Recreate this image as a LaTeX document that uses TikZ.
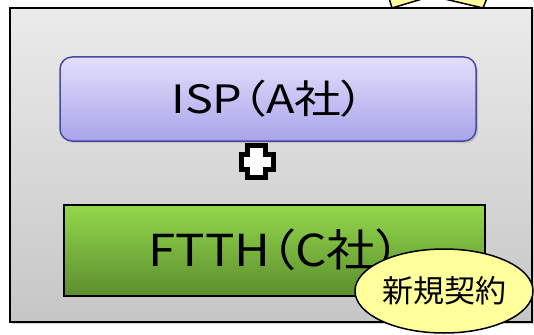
\documentclass[tikz,border=0pt]{standalone}
\usepackage{graphicx}
\usepackage{fontspec}
\setmainfont{Noto Sans CJK JP}
\newfontfamily\boxfont[RawFeature=+palt]{Noto Sans CJK JP}
\usetikzlibrary{shapes.geometric,shadows}
\definecolor{outerTop}{HTML}{EBEBEB}
\definecolor{outerBot}{HTML}{C6C6C6}
\definecolor{ispTop}{HTML}{E3DFFC}
\definecolor{ispBot}{HTML}{A8A4EA}
\definecolor{ispLine}{HTML}{4B47A3}
\definecolor{ftthTop}{HTML}{93D84C}
\definecolor{ftthBot}{HTML}{5C8E2E}
\definecolor{noteFill}{HTML}{FFFF9C}
\tikzset{
  outerbox/.style={draw=black, line width=1.5pt, top color=outerTop, bottom color=outerBot,
    minimum width=522pt, minimum height=314pt, inner sep=0pt,
    drop shadow={shadow xshift=2pt, shadow yshift=-2pt, opacity=0.35}},
  ispbox/.style={draw=ispLine, line width=1.5pt, rounded corners=12pt, top color=ispTop, bottom color=ispBot,
    minimum width=416pt, minimum height=84pt, inner sep=0pt, font=\boxfont\fontsize{39}{41}\selectfont,
    drop shadow={shadow xshift=2pt, shadow yshift=-2pt, opacity=0.3}},
  ftthbox/.style={draw=black, line width=2pt, top color=ftthTop, bottom color=ftthBot,
    minimum width=421pt, minimum height=91pt, inner sep=0pt, font=\boxfont\fontsize{44}{46}\selectfont},
  notebubble/.style={ellipse, draw=black, line width=1.5pt, fill=noteFill,
    minimum width=178pt, minimum height=84pt, inner sep=0pt, font=\fontsize{31}{33}\selectfont},
}
\begin{document}
\begin{tikzpicture}[x=1pt,y=-1pt]
\useasboundingbox (0,0) rectangle (534,334);
% burst behind the box top
\draw[line width=1.5pt, fill=noteFill] (389,-2) -- (392,8) -- (432,-4) -- (483,8) -- (487,-2);
\node[outerbox] (outer) at (271,165) {};
\node[ispbox] (isp) at (268,99) {\scalebox{1.2}[1]{ISP（A社）}};
\node[ftthbox] (ftth) at (274.5,250) {\scalebox{1.12}[1]{FTTH（C社）}};
% plus sign
\draw[line width=5pt, fill=white, miter limit=10]
  (247.5,145) -- (265.5,145) -- (265.5,154.5) -- (273,154.5) -- (273,169.5) -- (265.5,169.5)
  -- (265.5,177.5) -- (247.5,177.5) -- (247.5,169.5) -- (241,169.5) -- (241,154.5) -- (247.5,154.5) -- cycle;
\node[notebubble] (note) at (444,291) {新規契約};
\end{tikzpicture}
\end{document}
